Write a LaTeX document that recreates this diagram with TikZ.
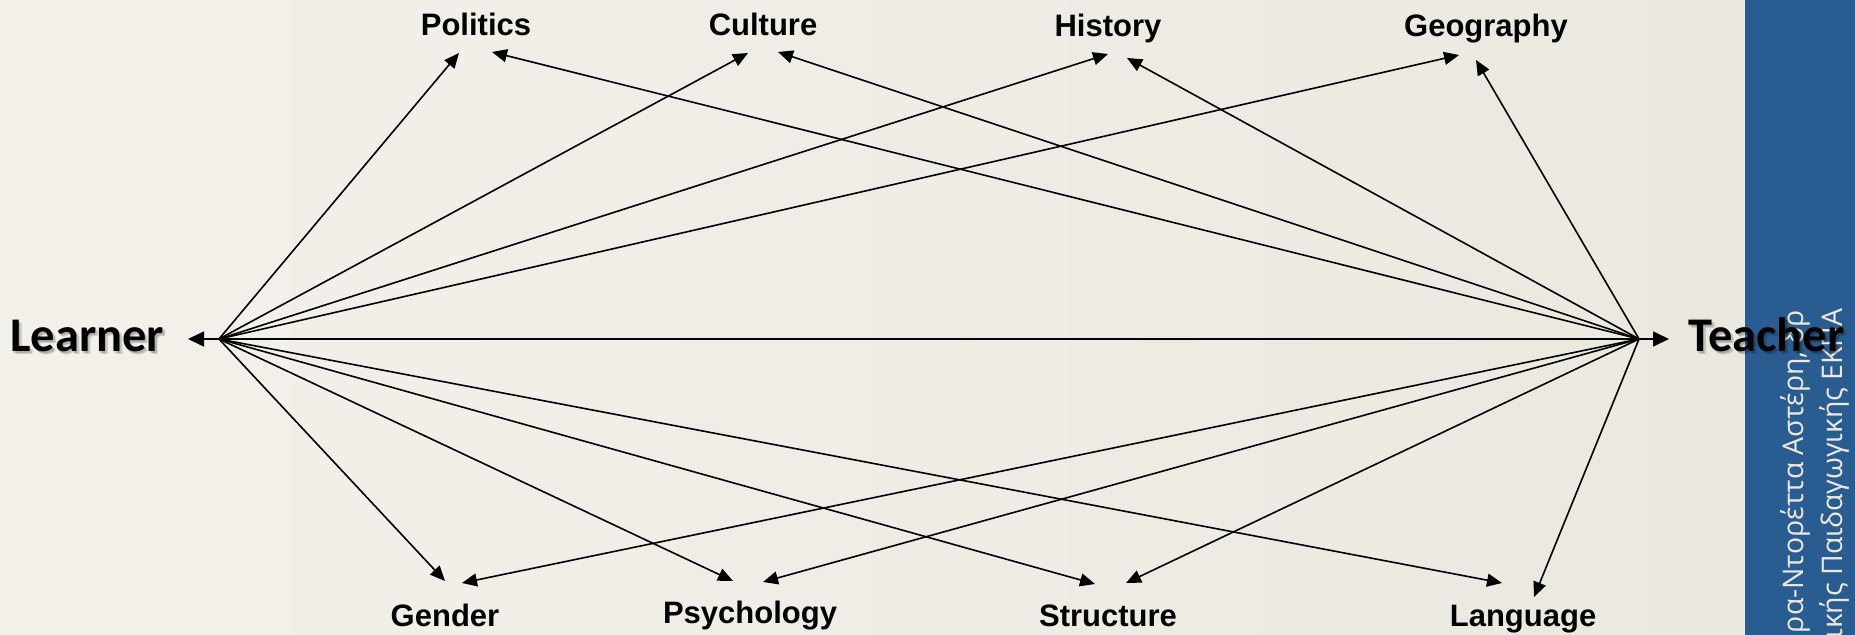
\documentclass[tikz,border=0pt]{standalone}
\usepackage{fontspec}
\setmainfont{Liberation Sans}
\newfontfamily\calfont{Carlito}
\newfontfamily\grfont{Open Sans}
\usetikzlibrary{arrows.meta}
\definecolor{bgleft}{HTML}{F3F1EA}
\definecolor{bgright}{HTML}{EBE8E0}
\definecolor{barblue}{HTML}{295D91}
\definecolor{grtext}{HTML}{ECE8DC}

\begin{document}
\begin{tikzpicture}[x=0.5pt,y=-0.5pt,
  topic/.style={font=\fontsize{15.5}{18}\selectfont\bfseries, inner sep=0pt, anchor=base},
  role/.style={font=\calfont\fontsize{24.2}{28}\selectfont\bfseries, inner sep=0pt, anchor=base west},
  roleshadow/.style={role, text=black, opacity=0.15},
  gr/.style={rotate=90, font=\grfont\fontsize{14.2}{18}\selectfont, text=grtext, inner sep=0pt, anchor=base east},
  arr/.style={-{Triangle[length=7.5pt,width=6.5pt]}, line width=0.8pt},
  dbl/.style={{Triangle[length=8pt,width=7.5pt]}-{Triangle[length=8pt,width=7.5pt]}, line width=0.8pt}]

  \useasboundingbox (0,0) rectangle (1855,635);
  \shade[left color=bgleft, right color=bgright] (0,0) rectangle (1745,635);
  \fill[barblue] (1745,0) rectangle (1855,635);

  \node[topic] (pol) at (476,36) {Politics};
  \node[topic] (cul) at (763,36) {Culture};
  \node[topic] (his) at (1108,37) {History};
  \node[topic] (geo) at (1486,37) {Geography};
  \node[topic] (gen) at (445,626) {Gender};
  \node[topic] (psy) at (750,623) {Psychology};
  \node[topic] (str) at (1108,626) {Structure};
  \node[topic] (lan) at (1523,626) {Language};

  \coordinate (lhub) at (219,339);
  \coordinate (rhub) at (1639,339);
  \coordinate (ltip) at (188,339);
  \coordinate (rtip) at (1669,339);

  \coordinate (pol-l) at (459,53);  \coordinate (pol-r) at (492,52);
  \coordinate (cul-l) at (748,53);  \coordinate (cul-r) at (778,52);
  \coordinate (his-l) at (1108,54); \coordinate (his-r) at (1127,58);
  \coordinate (geo-l) at (1459,55); \coordinate (geo-r) at (1476,60);
  \coordinate (gen-l) at (445,581); \coordinate (gen-r) at (462,583);
  \coordinate (psy-l) at (733,581); \coordinate (psy-r) at (763,582);
  \coordinate (str-l) at (1095,584); \coordinate (str-r) at (1126,583);
  \coordinate (lan-l) at (1502,583); \coordinate (lan-r) at (1534,597);

  \foreach \t in {pol,cul,his,geo,gen,psy,str,lan}{
    \draw[arr] (lhub) -- (\t-l);
    \draw[arr] (rhub) -- (\t-r);
  }
  \draw[dbl] (ltip) -- (rtip);

  \begin{scope}
    \clip (1745,0) rectangle (1855,635);
    \node[gr] (gr1) at (1803,310) {ρα-Ντορέττα Αστέρη, δρ};
    \node[gr] (gr2) at (1842,308) {ικής Παιδαγωγικής ΕΚΠΑ};
  \end{scope}

  \foreach \d in {1.5,3}{
    \node[roleshadow] at (10+\d,352+\d) {Learner};
    \node[roleshadow] at (1688+\d,352+\d) {Teacher};
  }
  \node[role] (learner) at (10,352) {Learner};
  \node[role] (teacher) at (1688,352) {Teacher};
\end{tikzpicture}
\end{document}
